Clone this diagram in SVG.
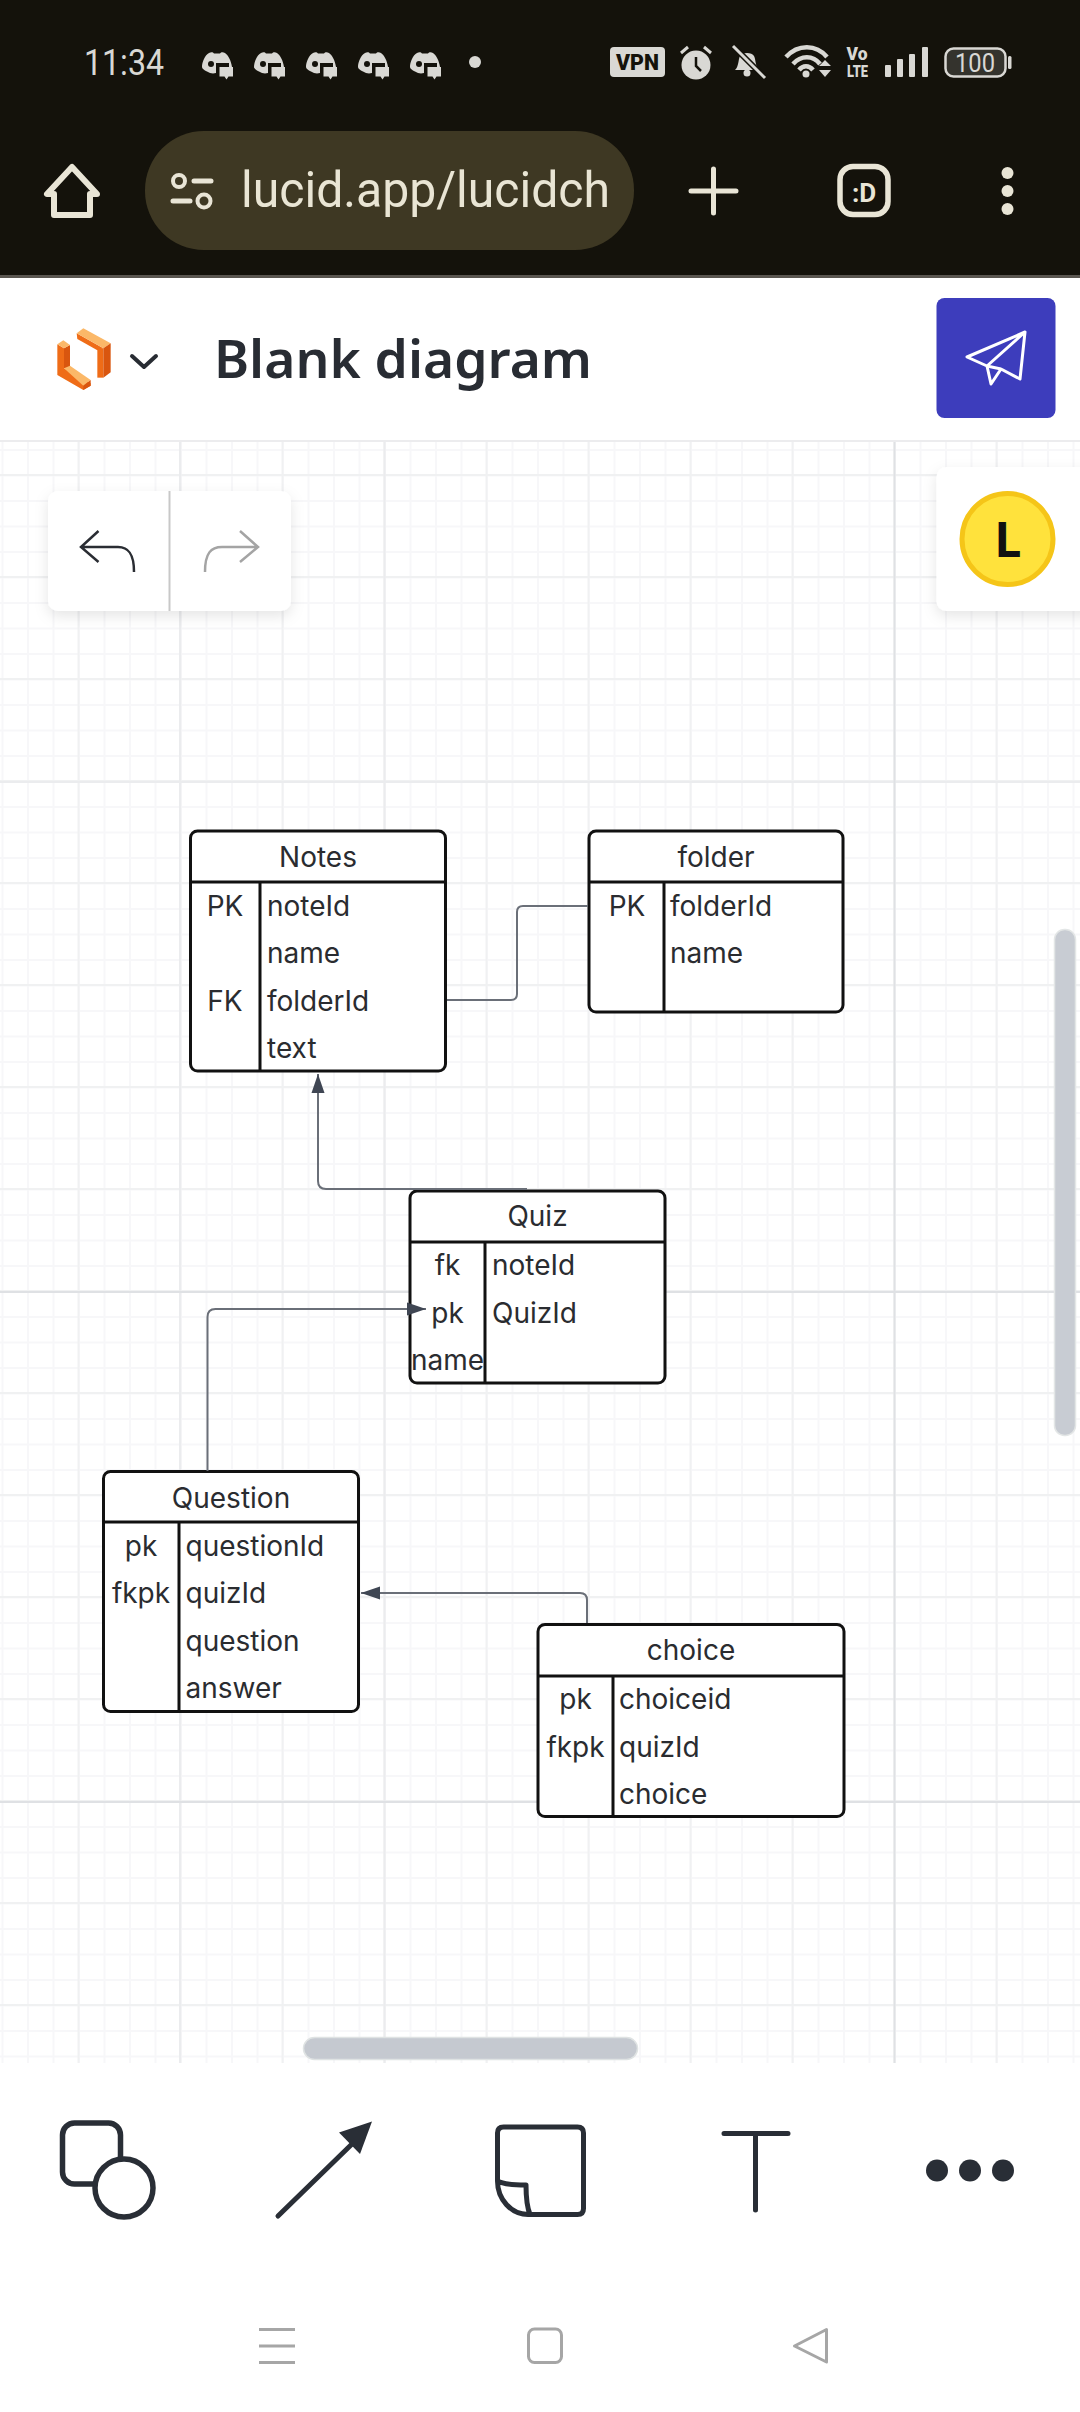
<svg xmlns="http://www.w3.org/2000/svg" width="1080" height="2412" viewBox="0 0 1080 2412">
<style>
.t{font-family:Inter,"Noto Sans",sans-serif;font-size:28px;fill:#2a2c30}
.m{text-anchor:middle}
.box{fill:#fff;stroke:#111;stroke-width:3}
.div{stroke:#111;stroke-width:3;fill:none}
.conn{fill:none;stroke:#6a6f78;stroke-width:2}
.ic{fill:none;stroke:#292e36;stroke-linecap:round;stroke-linejoin:round}
.bar{fill:none;stroke:#e9e5d6;stroke-linecap:round;stroke-linejoin:round}
.st{fill:#d9d8d4}
.nav{fill:none;stroke:#a6a6a6;stroke-width:3;stroke-linejoin:round}
</style>
<defs>
<pattern id="gridMinor" patternUnits="userSpaceOnUse" x="1.5" y="15.5" width="25.5" height="25.5"><path d="M1 0V25.5M0 1H25.5" stroke="#f7f7f9" stroke-width="2" fill="none"/></pattern>
<pattern id="gridMid" patternUnits="userSpaceOnUse" x="77.5" y="474" width="102" height="102"><path d="M1 0V102M0 1H102" stroke="#f0f1f2" stroke-width="2" fill="none"/></pattern>
<marker id="ah" markerUnits="userSpaceOnUse" markerWidth="22" markerHeight="16" refX="20" refY="8" orient="auto"><path d="M1 1.5L20 8L1 14.5Z" fill="#3f4653"/></marker>
<filter id="sh" x="-20%" y="-20%" width="140%" height="150%"><feDropShadow dx="0" dy="5" stdDeviation="7" flood-color="#000" flood-opacity=".1"/></filter>
<symbol id="disc" viewBox="0 0 32 29" overflow="visible">
<path d="M8 2C10 1 12 1 13 2.500H19C20 1 22 1 24 2C27 4 30 9 31 16H28V12H15V22C12 23 9 22.500 6 20.500C3 19 1 17.500 1 16C1 11 4 4 8 2Z" fill="#d9d8d4"/>
<circle cx="10" cy="13" r="3" fill="#14120b"/>
<path d="M18.500 16H32V25.500H27.500L25.500 28.500L23.500 25.500H18.500Z" fill="#d9d8d4"/>
</symbol>
</defs>

<g id="canvas">
<rect x="0" y="440" width="1080" height="1630" fill="#fff"/>
<rect x="0" y="440" width="1080" height="1630" fill="url(#gridMinor)"/>
<rect x="0" y="440" width="1080" height="1630" fill="url(#gridMid)"/>
<path d="M180 440V2070M384.500 440V2070M0 782H1080" stroke="#ebecee" stroke-width="2" fill="none"/>
<path d="M894.500 440V2070M0 1292H1080M0 1802H1080" stroke="#dfe1e4" stroke-width="2" fill="none"/>
</g>

<g id="statusbar">
<rect x="0" y="0" width="1080" height="275" fill="#14120b"/>
<rect x="0" y="275" width="1080" height="3" fill="#5a5650"/>
<text x="84" y="75" font-family="Roboto,sans-serif" font-size="36" fill="#d9d8d4" textLength="80" lengthAdjust="spacingAndGlyphs">11:34</text>
<use href="#disc" x="201" y="51" width="32" height="29"/>
<use href="#disc" x="253" y="51" width="32" height="29"/>
<use href="#disc" x="305" y="51" width="32" height="29"/>
<use href="#disc" x="357" y="51" width="32" height="29"/>
<use href="#disc" x="409" y="51" width="32" height="29"/>
<circle cx="475" cy="62" r="6" class="st"/>
<rect x="610" y="47" width="55" height="30" rx="4" class="st"/>
<text x="637.500" y="70" text-anchor="middle" font-family="Roboto,sans-serif" font-weight="900" font-size="22" fill="#14120b" textLength="43" lengthAdjust="spacingAndGlyphs">VPN</text>
<circle cx="696" cy="65" r="14.500" class="st"/>
<path d="M696 57V66L701 71" stroke="#14120b" stroke-width="2.500" fill="none"/>
<path d="M681 53L688 47M711 53L704 47" stroke="#d9d8d4" stroke-width="3" fill="none"/>
<path d="M735 70C739 66 738 60 740 56C742 52 752 52 754 56C756 60 755 66 759 70Z" class="st"/>
<circle cx="747" cy="73" r="3.500" class="st"/>
<path d="M734 47L764 77" stroke="#14120b" stroke-width="6"/><path d="M733 46L765 78" stroke="#d9d8d4" stroke-width="3"/>
<path d="M786 57C798 44 816 44 827 57M793 64C801 55 813 55 820 64M799 70C803 65 809 65 813 70" fill="none" stroke="#d9d8d4" stroke-width="4.500"/>
<circle cx="806" cy="74" r="3.500" class="st"/>
<path d="M819 66L825 60L831 66ZM819 70H831L825 77Z" class="st"/>
<text x="857" y="60" text-anchor="middle" font-family="Roboto,sans-serif" font-weight="900" font-size="18" fill="#d9d8d4" textLength="21" lengthAdjust="spacingAndGlyphs">Vo</text>
<text x="857.500" y="77" text-anchor="middle" font-family="Roboto,sans-serif" font-weight="900" font-size="17" fill="#d9d8d4" textLength="21" lengthAdjust="spacingAndGlyphs">LTE</text>
<rect x="885" y="65" width="6" height="12" rx="1" class="st"/><rect x="897" y="59" width="6" height="18" rx="1" class="st"/><rect x="909" y="54" width="6" height="23" rx="1" class="st"/><rect x="922" y="47" width="6" height="30" rx="1" class="st"/>
<rect x="945.500" y="48.500" width="60" height="28" rx="8" fill="#34332d" stroke="#d9d8d4" stroke-width="2.500"/>
<rect x="1008" y="56" width="3.500" height="13" rx="1.500" class="st"/>
<text x="975" y="72" text-anchor="middle" font-family="Roboto,sans-serif" font-size="26" fill="#d9d8d4" textLength="40" lengthAdjust="spacingAndGlyphs">100</text>
</g>

<g id="browserbar">
<path d="M72 167L47 194H54V215H90V194H97Z" class="bar" stroke-width="6"/>
<rect x="145" y="131" width="489" height="119" rx="59" fill="#3e3823"/>
<circle cx="179" cy="181" r="6" class="bar" stroke-width="4"/><path d="M194 181H211M173 201H190" class="bar" stroke-width="5"/><circle cx="204" cy="201" r="6.500" class="bar" stroke-width="4"/>
<text x="241" y="207" font-family="Roboto,sans-serif" font-size="50" fill="#e9e5d4" textLength="369" lengthAdjust="spacingAndGlyphs">lucid.app/lucidch</text>
<path d="M713.500 169V213M691 191H736" class="bar" stroke-width="5"/>
<rect x="840" y="166.500" width="48" height="48" rx="13" class="bar" stroke-width="5.500"/>
<text x="864" y="202" text-anchor="middle" font-family="Roboto,sans-serif" font-weight="700" font-size="26" fill="#e9e5d6">:D</text>
<circle cx="1007.500" cy="173" r="6" fill="#e9e5d6"/><circle cx="1007.500" cy="191" r="6" fill="#e9e5d6"/><circle cx="1007.500" cy="209" r="6" fill="#e9e5d6"/>
</g>

<g id="header">
<rect x="0" y="278" width="1080" height="163" fill="#fff"/>
<g transform="translate(40 315) scale(.33333)">
<path d="M72 100L90 90V160L72 160Z" fill="#d9560f"/>
<path d="M52 88L72 100V160L152 205V212L130 225L52 180Z" fill="#ef6c17"/>
<path d="M52 88L70 76L90 90L72 100Z" fill="#fbb868"/>
<path d="M72 160L90 152L152 195L130 212Z" fill="#fbb868"/>
<path d="M130 212L152 195V212L130 225Z" fill="#d9560f"/>
<path d="M110 55L190 100L172 106L112 72Z" fill="#ef6c17"/>
<path d="M172 100L190 100V188H172Z" fill="#ef6c17"/>
<path d="M110 55L130 40L212 85L190 100Z" fill="#fbb868"/>
<path d="M190 100L212 85V172L190 188Z" fill="#d9560f"/>
</g>
<path d="M132 356L144 367L156 356" fill="none" stroke="#282c33" stroke-width="4" stroke-linecap="round" stroke-linejoin="round"/>
<text x="214" y="378" font-family="'Noto Sans','Open Sans',sans-serif" font-weight="600" font-size="53" fill="#282c33" textLength="378" lengthAdjust="spacingAndGlyphs">Blank diagram</text>
<rect x="936.500" y="298" width="119" height="120" rx="8" fill="#3d3dbc"/>
<path d="M1025 332L967 357L987 366ZM1025 332L987 366L991 384L1001 369L1020 379ZM987 366L1001 369" fill="none" stroke="#fff" stroke-width="3" stroke-linejoin="round"/>
<rect x="0" y="440" width="1080" height="2" fill="#ececee"/>
</g>

<g id="undo-panel">
<rect x="48" y="491" width="243" height="120" rx="10" fill="#fff" filter="url(#sh)"/>
<path d="M169.500 491V611" stroke="#c8c8c8" stroke-width="2"/>
<path d="M98.500 531L81 547L98.500 562M81 547H118C128 547 134 553 134 572" fill="none" stroke="#2a2d33" stroke-width="2.500"/>
<path d="M240 531L258 547L240 562M258 547H222C211 547 205 553 205 572" fill="none" stroke="#a4a4a4" stroke-width="2.500"/>
</g>

<g id="user-panel">
<rect x="936.500" y="467" width="160" height="144" rx="10" fill="#fff" filter="url(#sh)"/>
<circle cx="1007.500" cy="539" r="45.500" fill="#ffe23c" stroke="#f5c518" stroke-width="5"/>
<text x="1008" y="557" text-anchor="middle" font-family="'Noto Sans',sans-serif" font-weight="700" font-size="48" fill="#111">L</text>
</g>

<g id="scrollbars">
<rect x="1054.500" y="929.500" width="21" height="506" rx="10" fill="#c8ccd3" stroke="#e3e6e6" stroke-width="1.500"/>
<rect x="303.500" y="2037.500" width="334" height="22" rx="11" fill="#c5c9d0" stroke="#dfe3e3" stroke-width="1.500"/>
</g>

<g id="node-notes">
<rect class="box" x="190.500" y="831" width="255" height="240" rx="7"/>
<path class="div" d="M190.500 882H445.500M260 882V1071"/>
<text class="t m" x="318" y="867">Notes</text>
<text class="t m" x="225" y="916">PK</text><text class="t" x="267" y="916">noteId</text>
<text class="t" x="267" y="963">name</text>
<text class="t m" x="225" y="1011">FK</text><text class="t" x="267" y="1011">folderId</text>
<text class="t" x="267" y="1058">text</text>
</g>

<g id="node-folder">
<rect class="box" x="589" y="831" width="254" height="181" rx="7"/>
<path class="div" d="M589 882H843M664 882V1012"/>
<text class="t m" x="716" y="867">folder</text>
<text class="t m" x="627" y="916">PK</text><text class="t" x="670" y="916">folderId</text>
<text class="t" x="670" y="963">name</text>
</g>

<g id="node-quiz">
<rect class="box" x="410" y="1191" width="255" height="192" rx="7"/>
<path class="div" d="M410 1242H665M485 1242V1383"/>
<text class="t m" x="537.500" y="1226">Quiz</text>
<text class="t m" x="447.500" y="1275">fk</text><text class="t" x="492" y="1275">noteId</text>
<text class="t m" x="447.500" y="1323">pk</text><text class="t" x="492" y="1323">QuizId</text>
<text class="t m" x="447.500" y="1370">name</text>
</g>

<g id="node-question">
<rect class="box" x="103.500" y="1471.500" width="255" height="240" rx="7"/>
<path class="div" d="M103.500 1522H358.500M179 1522V1711.500"/>
<text class="t m" x="231" y="1508">Question</text>
<text class="t m" x="141" y="1556">pk</text><text class="t" x="185.500" y="1556">questionId</text>
<text class="t m" x="141" y="1603">fkpk</text><text class="t" x="185.500" y="1603">quizId</text>
<text class="t" x="185.500" y="1651">question</text>
<text class="t" x="185.500" y="1698">answer</text>
</g>

<g id="node-choice">
<rect class="box" x="538" y="1624.500" width="306" height="192" rx="7"/>
<path class="div" d="M538 1676H844M613 1676V1816.500"/>
<text class="t m" x="691" y="1660">choice</text>
<text class="t m" x="575.500" y="1709">pk</text><text class="t" x="619" y="1709">choiceid</text>
<text class="t m" x="575.500" y="1757">fkpk</text><text class="t" x="619" y="1757">quizId</text>
<text class="t" x="619" y="1804">choice</text>
</g>

<g id="connectors">
<path class="conn" d="M447 1000H511Q517 1000 517 994V912Q517 906 523 906H588"/>
<path class="conn" d="M527 1189H326Q318 1189 318 1181V1074" marker-end="url(#ah)"/>
<path class="conn" d="M207.500 1471V1317Q207.500 1309 215.500 1309H426" marker-end="url(#ah)"/>
<path class="conn" d="M587 1623V1600Q587 1593 580 1593H361" marker-end="url(#ah)"/>
</g>

<g id="toolbar">
<rect x="0" y="2063" width="1080" height="349" fill="#fff"/>
<rect x="62.500" y="2123" width="58" height="61" rx="12" class="ic" stroke-width="5.500"/>
<circle cx="124" cy="2188" r="29" fill="#fff" stroke="#292e36" stroke-width="5.500"/>
<path d="M278 2216L352 2144" class="ic" stroke-width="5"/>
<path d="M372 2121.500L339 2132.500L360 2154Z" fill="#292e36"/>
<path d="M497.500 2181V2133Q497.500 2127 503.500 2127H577.500Q583.500 2127 583.500 2133V2208.500Q583.500 2214.500 577.500 2214.500H528C511 2214.500 497.500 2199 497.500 2181C503 2184 510 2185 526 2185C526 2198 527 2207 530 2214.500" class="ic" stroke-width="5"/>
<path d="M724 2133.500H788M755.500 2133.500V2210" class="ic" stroke-width="5"/>
<circle cx="937" cy="2170.500" r="11" fill="#292e36"/><circle cx="970" cy="2170.500" r="11" fill="#292e36"/><circle cx="1003" cy="2170.500" r="11" fill="#292e36"/>
</g>

<g id="navbar">
<path class="nav" d="M259 2329.500H295M259 2346H295M259 2362.500H295"/>
<rect class="nav" x="528.500" y="2329" width="33" height="33.500" rx="6"/>
<path class="nav" d="M826.500 2329.500L794.500 2346L826.500 2362Z"/>
</g>
</svg>
